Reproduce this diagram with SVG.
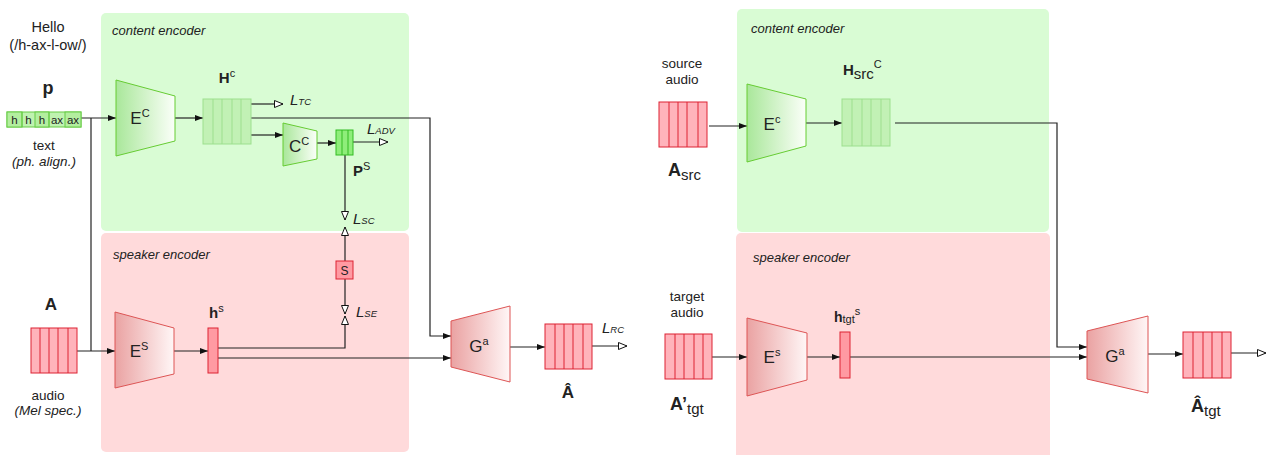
<svg xmlns="http://www.w3.org/2000/svg" width="1268" height="455" viewBox="0 0 1268 455">
<style>
text{font-family:"Liberation Sans",Arial,sans-serif;fill:#222}
.pl{font-size:13px;font-style:italic}
.cap{font-size:13.5px}
.op{font-size:17px}
.sup{font-size:11px}
.bl{font-weight:bold}
.L{font-size:15px;font-style:italic}
.Ls{font-size:9.5px;font-style:italic}
.ph{font-size:11.5px}
.gbox{fill:#c2f1b5;stroke:#9ddf8e;stroke-width:1}
.gcell{stroke:#9ddf8e;stroke-width:1}
.rbox{fill:#ffb3bb;stroke:#dd2233;stroke-width:1}
.rcell{stroke:#dd2233;stroke-width:1}
.c{fill:none;stroke:#222;stroke-width:1.2}
.fa{marker-end:url(#fa)}
.oa{marker-end:url(#oa)}
</style>
<defs>
<linearGradient id="gg" x1="0" x2="1" y1="0" y2="0"><stop offset="0" stop-color="#a9e79a"/><stop offset="1" stop-color="#fbfff9"/></linearGradient>
<linearGradient id="rg" x1="0" x2="1" y1="0" y2="0"><stop offset="0" stop-color="#eaa2a2"/><stop offset="1" stop-color="#fff6f6"/></linearGradient>
<marker id="fa" markerUnits="userSpaceOnUse" markerWidth="10" markerHeight="8" refX="9" refY="4" orient="auto"><path d="M1,1 L9,4 L1,7 z" fill="#111"/></marker>
<marker id="oa" markerUnits="userSpaceOnUse" markerWidth="11" markerHeight="9" refX="9.5" refY="4.5" orient="auto"><path d="M1,1 L9.5,4.5 L1,8 z" fill="#fff" stroke="#111" stroke-width="1"/></marker>
</defs>

<g id="panels">
<rect id="left-content-panel" x="101" y="13" width="308" height="218" rx="5" fill="#d9fcd4"/>
<rect id="left-speaker-panel" x="101" y="233" width="308" height="219" rx="5" fill="#ffdadb"/>
<rect id="right-content-panel" x="737" y="9" width="312" height="223" rx="5" fill="#d9fcd4"/>
<rect id="right-speaker-panel" x="736" y="233" width="314" height="230" rx="5" fill="#ffdadb"/>
<text class="pl" x="112" y="35">content encoder</text>
<text class="pl" x="113" y="259">speaker encoder</text>
<text class="pl" x="751" y="33">content encoder</text>
<text class="pl" x="753" y="262">speaker encoder</text>
</g>

<g id="connectors">
<path class="c fa" d="M81,118 H116"/>
<path class="c" d="M91,118 V351"/>
<path class="c fa" d="M77,351 H115"/>
<path class="c fa" d="M175,118 H203"/>
<path class="c oa" d="M251,104 H283"/>
<path class="c fa" d="M251,118 H430 V336 H451"/>
<path class="c fa" d="M251,135 H283"/>
<path class="c fa" d="M317,143 H336"/>
<path class="c oa" d="M353,142 H388"/>
<path class="c oa" d="M345,155 V220"/>
<path class="c oa" d="M345,261 V227"/>
<path class="c oa" d="M345,279 V314"/>
<path class="c oa" d="M218,348 H345 V316"/>
<path class="c fa" d="M174,351 H208"/>
<path class="c fa" d="M218,358 H451"/>
<path class="c fa" d="M510,347 H545"/>
<path class="c oa" d="M592,346 H627"/>
<path class="c fa" d="M709,126 H747"/>
<path class="c fa" d="M806,123 H842"/>
<path class="c fa" d="M895,123 H1057 V347 H1087"/>
<path class="c fa" d="M712,357 H747"/>
<path class="c fa" d="M807,357 H840"/>
<path class="c fa" d="M850,357 H1087"/>
<path class="c fa" d="M1148,354 H1183"/>
<path class="c oa" d="M1231,353 H1266"/>
</g>

<g id="text-input">
<text x="48" y="32" text-anchor="middle" font-size="14.5">Hello</text>
<text x="48" y="50" text-anchor="middle" font-size="14.5">(/h-ax-l-ow/)</text>
<text class="bl" x="48" y="94" text-anchor="middle" font-size="18">p</text>
<rect x="7" y="112" width="74" height="15" fill="#bff2b0" stroke="#66cc44"/>
<rect x="7" y="112" width="15" height="15" fill="#b3ee9f" stroke="#66cc44"/>
<rect x="35" y="112" width="14" height="15" fill="#b3ee9f" stroke="#66cc44"/>
<rect x="65" y="112" width="16" height="15" fill="#b3ee9f" stroke="#66cc44"/>
<line x1="22" y1="112" x2="22" y2="127" stroke="#66cc44"/>
<line x1="49" y1="112" x2="49" y2="127" stroke="#66cc44"/>
<text class="ph" x="14.5" y="123.5" text-anchor="middle">h</text>
<text class="ph" x="28.5" y="123.5" text-anchor="middle">h</text>
<text class="ph" x="42" y="123.5" text-anchor="middle">h</text>
<text class="ph" x="57" y="123.5" text-anchor="middle">ax</text>
<text class="ph" x="73" y="123.5" text-anchor="middle">ax</text>
<text class="cap" x="44" y="150" text-anchor="middle">text</text>
<text class="cap" x="44" y="166" text-anchor="middle" font-style="italic">(ph. align.)</text>
</g>

<g id="audio-input">
<text class="bl" x="51" y="310" text-anchor="middle" font-size="17">A</text>
<rect class="rbox" x="31" y="328" width="46" height="45"/>
<path class="rcell" d="M40,328 V373 M49,328 V373 M58,328 V373 M68,328 V373"/>
<text class="cap" x="48" y="400" text-anchor="middle">audio</text>
<text class="cap" x="48" y="415" text-anchor="middle" font-style="italic">(Mel spec.)</text>
</g>

<g id="Ec-left">
<polygon points="116,80 175,96 175,141 116,156" fill="url(#gg)" stroke="#66cc33" stroke-width="1"/>
<text class="op" x="140" y="124" text-anchor="middle">E<tspan class="sup" dy="-7">C</tspan></text>
</g>

<g id="Hc-left">
<text class="bl" x="227" y="83" text-anchor="middle" font-size="15">H<tspan class="sup" font-weight="normal" dy="-6">c</tspan></text>
<rect class="gbox" x="203" y="99" width="48" height="45"/>
<path class="gcell" d="M213,99 V144 M222,99 V144 M232,99 V144 M241,99 V144"/>
</g>

<g id="LTC"><text x="290" y="105"><tspan class="L">L</tspan><tspan class="Ls">TC</tspan></text></g>

<g id="Cc-left">
<polygon points="283,123 317,131 317,159 283,166" fill="url(#gg)" stroke="#66cc33" stroke-width="1"/>
<text class="op" x="299" y="152" text-anchor="middle">C<tspan class="sup" dy="-7">C</tspan></text>
</g>

<g id="Ps-left">
<rect x="336" y="130" width="17" height="25" fill="#8eee7a" stroke="#33bb22"/>
<path d="M342,130 V155 M348,130 V155" stroke="#33bb22"/>
<text class="bl" x="353" y="176" font-size="15">P<tspan class="sup" font-weight="normal" dy="-6">S</tspan></text>
</g>

<g id="LADV"><text x="367" y="134"><tspan class="L">L</tspan><tspan class="Ls">ADV</tspan></text></g>
<g id="LSC"><text x="353" y="224"><tspan class="L">L</tspan><tspan class="Ls">SC</tspan></text></g>

<g id="S-left">
<rect x="336" y="261" width="17" height="18" fill="#ff9aa2" stroke="#dd2233"/>
<text x="344.5" y="275" text-anchor="middle" font-size="12">S</text>
</g>

<g id="LSE"><text x="356" y="317"><tspan class="L">L</tspan><tspan class="Ls">SE</tspan></text></g>

<g id="Es-left">
<polygon points="115,312 174,328 174,374 115,388" fill="url(#rg)" stroke="#dd5555" stroke-width="1"/>
<text class="op" x="139" y="357" text-anchor="middle">E<tspan class="sup" dy="-7">S</tspan></text>
</g>

<g id="hs-left">
<text class="bl" x="209" y="318" font-size="15">h<tspan class="sup" font-weight="normal" dy="-6">s</tspan></text>
<rect x="208" y="328" width="10" height="45" fill="#ff9aa2" stroke="#dd2233"/>
</g>

<g id="Ga-left">
<polygon points="451,321 510,306 510,382 451,367" fill="url(#rg)" stroke="#dd5555" stroke-width="1"/>
<text class="op" x="479" y="352" text-anchor="middle">G<tspan class="sup" dy="-7">a</tspan></text>
</g>

<g id="Ahat-left">
<rect class="rbox" x="545" y="324" width="47" height="45"/>
<path class="rcell" d="M555,324 V369 M564,324 V369 M573,324 V369 M583,324 V369"/>
<text class="bl" x="568" y="398" text-anchor="middle" font-size="17">Â</text>
</g>

<g id="LRC"><text x="602" y="333"><tspan class="L">L</tspan><tspan class="Ls">RC</tspan></text></g>

<g id="Asrc">
<text x="682" y="68" text-anchor="middle" font-size="13.5">source</text>
<text x="682" y="84" text-anchor="middle" font-size="13.5">audio</text>
<rect class="rbox" x="659" y="102" width="48" height="45"/>
<path class="rcell" d="M669,102 V147 M678,102 V147 M687,102 V147 M698,102 V147"/>
<text x="668" y="176"><tspan class="bl" font-size="18">A</tspan><tspan font-size="15" dy="4">src</tspan></text>
</g>

<g id="Ec-right">
<polygon points="747,84 806,99 806,146 747,162" fill="url(#gg)" stroke="#66cc33" stroke-width="1"/>
<text class="op" x="772" y="130" text-anchor="middle">E<tspan class="sup" dy="-7">c</tspan></text>
</g>

<g id="Hsrc-right">
<text x="843" y="75"><tspan class="bl" font-size="15">H</tspan><tspan font-size="15" dy="4">src</tspan><tspan font-size="11" dy="-11">C</tspan></text>
<rect class="gbox" x="842" y="99" width="48" height="47"/>
<path class="gcell" d="M852,99 V146 M862,99 V146 M871,99 V146 M881,99 V146"/>
</g>

<g id="Atgt">
<text x="687" y="301" text-anchor="middle" font-size="13.5">target</text>
<text x="687" y="317" text-anchor="middle" font-size="13.5">audio</text>
<rect class="rbox" x="665" y="334" width="47" height="45"/>
<path class="rcell" d="M675,334 V379 M684,334 V379 M694,334 V379 M703,334 V379"/>
<text x="670" y="410"><tspan class="bl" font-size="18">A’</tspan><tspan font-size="15" dy="4">tgt</tspan></text>
</g>

<g id="Es-right">
<polygon points="747,318 807,333 807,380 747,396" fill="url(#rg)" stroke="#dd5555" stroke-width="1"/>
<text class="op" x="772" y="363" text-anchor="middle">E<tspan class="sup" dy="-7">s</tspan></text>
</g>

<g id="htgt-right">
<text x="834" y="322"><tspan class="bl" font-size="14">h</tspan><tspan font-size="11" dy="1">tgt</tspan><tspan font-size="11" dy="-8">s</tspan></text>
<rect x="840" y="332" width="10" height="46" fill="#ff9aa2" stroke="#dd2233"/>
</g>

<g id="Ga-right">
<polygon points="1087,331 1148,316 1148,393 1087,379" fill="url(#rg)" stroke="#dd5555" stroke-width="1"/>
<text class="op" x="1115" y="362" text-anchor="middle">G<tspan class="sup" dy="-7">a</tspan></text>
</g>

<g id="Ahat-right">
<rect class="rbox" x="1183" y="332" width="48" height="46"/>
<path class="rcell" d="M1193,332 V378 M1203,332 V378 M1212,332 V378 M1222,332 V378"/>
<text x="1191" y="412"><tspan class="bl" font-size="18">Â</tspan><tspan font-size="15" dy="4">tgt</tspan></text>
</g>
</svg>
